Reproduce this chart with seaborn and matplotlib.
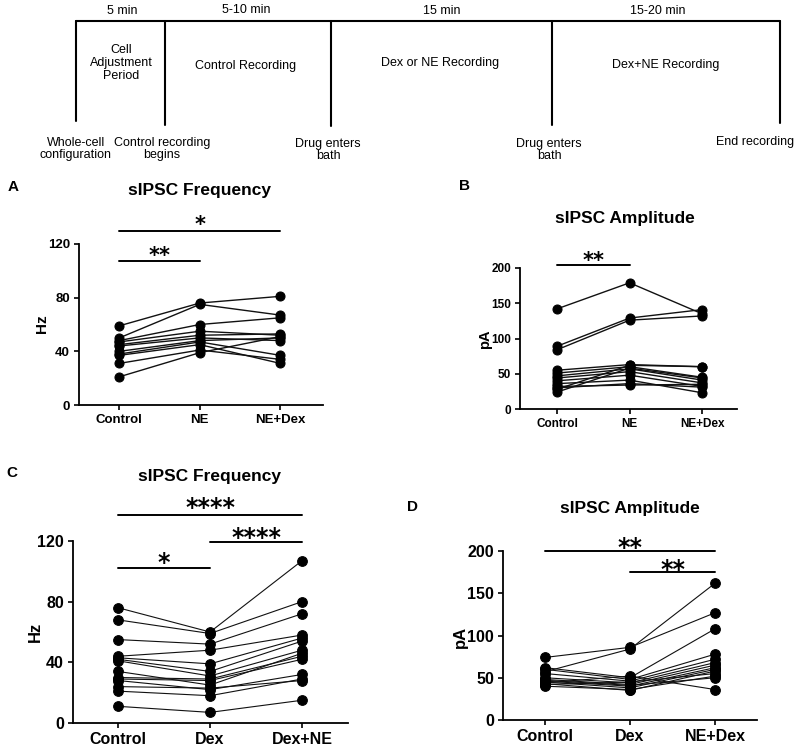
import numpy as np
import pandas as pd
import matplotlib
matplotlib.use("Agg")
import matplotlib.pyplot as plt
import seaborn as sns

sns.set_style("ticks", {"axes.edgecolor": "black", "text.color": "black",
                        "xtick.color": "black", "ytick.color": "black",
                        "axes.labelcolor": "black"})
plt.rcParams["font.family"] = ["Liberation Sans", "DejaVu Sans"]

# panel A: sIPSC frequency, NE then NE+Dex
A_cond = ["Control", "NE", "NE+Dex"]
A_control = [59, 50, 48, 47, 45, 44, 40, 38, 37, 31, 21]
A_ne = [76, 75, 60, 55, 52, 50, 48, 47, 45, 41, 39]
A_nedex = [81, 67, 65, 52, 53, 48, 50, 37, 31, 34, 51]

# panel B: sIPSC amplitude, NE then NE+Dex
B_cond = ["Control", "NE", "NE+Dex"]
B_control = [142, 89, 84, 55, 51, 47, 44, 40, 36, 32, 28, 24, 30]
B_ne = [179, 129, 126, 63, 60, 57, 53, 48, 41, 34, 62, 58, 36]
B_nedex = [135, 141, 132, 60, 45, 41, 37, 32, 23, 35, 60, 44, 31]

# panel C: sIPSC frequency, Dex then Dex+NE
C_cond = ["Control", "Dex", "Dex+NE"]
C_control = [76, 68, 55, 44, 43, 42, 41, 34, 30, 29, 28, 24, 21, 11]
C_dex = [60, 59, 52, 48, 39, 34, 31, 25, 29, 28, 22, 23, 18, 7]
C_dexne = [107, 80, 72, 58, 56, 54, 48, 46, 44, 42, 32, 28, 29, 15]

# panel D: sIPSC amplitude, Dex then NE+Dex
D_cond = ["Control", "Dex", "NE+Dex"]
D_control = [74, 57, 62, 60, 55, 50, 48, 46, 45, 43, 42, 40, 44, 47]
D_dex = [86, 84, 50, 48, 46, 44, 42, 40, 38, 35, 45, 36, 52, 41]
D_nedex = [127, 162, 108, 78, 72, 68, 65, 62, 60, 58, 55, 52, 36, 50]

# significance bars: (x0, x1, bar y, star y, label)
A_sig = [(0, 2, 130, 138.5, "*"), (0, 1, 107, 115.5, "**")]
B_sig = [(0, 1, 204, 218, "**")]
C_sig = [(0, 2, 137, 146, "****"), (1, 2, 119.3, 126.5, "****"), (0, 1, 102, 110, "*")]
D_sig = [(0, 2, 200, 211, "**"), (1, 2, 175, 186, "**")]

W, H = 800, 750
fig = plt.figure(figsize=(8, 7.5), dpi=100)


def px_axes(left, right, top, bottom):
    return fig.add_axes([left / W, 1 - bottom / H, (right - left) / W, (bottom - top) / H])


def long_df(conds, cols):
    rows = []
    for c, vals in zip(conds, cols):
        for i, v in enumerate(vals):
            rows.append({"cell": i, "condition": c, "value": v})
    return pd.DataFrame(rows)


def panel(ax, conds, cols, yticks, xlim, sig, tick_fs, star_fs, ms, lw):
    df = long_df(conds, cols)
    sns.lineplot(data=df, x="condition", y="value", units="cell", estimator=None,
                 color="#111111", marker="o", markersize=ms, markeredgecolor="black",
                 markerfacecolor="black", linewidth=lw, sort=False, ax=ax)
    ax.set_xlim(*xlim)
    ax.set_ylim(yticks[0], yticks[-1])
    ax.set_yticks(yticks)
    ax.set_xlabel("")
    ax.set_ylabel("")
    sns.despine(ax=ax)
    for s in ["left", "bottom"]:
        ax.spines[s].set_linewidth(1.3)
    ax.tick_params(direction="out", length=3.5, width=1.2, labelsize=tick_fs, pad=3)
    for lab in ax.get_xticklabels() + ax.get_yticklabels():
        lab.set_fontweight("bold")
    for x0, x1, yb, ys, txt in sig:
        ax.plot([x0, x1], [yb, yb], color="black", lw=1.4, clip_on=False)
        ax.annotate(txt, xy=((x0 + x1) / 2, ys), xytext=(0, -0.58 * star_fs),
                    textcoords="offset points", ha="center", va="baseline",
                    fontsize=star_fs, family="DejaVu Sans", fontweight="bold",
                    annotation_clip=False)


axA = px_axes(79, 323, 244, 405)
panel(axA, A_cond, [A_control, A_ne, A_nedex], [0, 40, 80, 120], (-0.5, 2.53), A_sig, 9.5, 15, 6.5, 1.0)
axB = px_axes(520, 737, 268, 409)
panel(axB, B_cond, [B_control, B_ne, B_nedex], [0, 50, 100, 150, 200], (-0.51, 2.48), B_sig, 8.5, 15, 6.5, 1.0)
axC = px_axes(73, 348, 541, 723)
panel(axC, C_cond, [C_control, C_dex, C_dexne], [0, 40, 80, 120], (-0.49, 2.5), C_sig, 11.5, 17, 7, 0.8)
axD = px_axes(503, 757, 551, 720)
panel(axD, D_cond, [D_control, D_dex, D_nedex], [0, 50, 100, 150, 200], (-0.49, 2.49), D_sig, 11.5, 17, 7, 0.8)

# overlay in pixel coordinates for timeline, titles and letters
ov = fig.add_axes([0, 0, 1, 1])
ov.set_xlim(0, W)
ov.set_ylim(H, 0)
ov.axis("off")

ov.plot([76, 780], [21, 21], color="black", lw=1.5)
for x, yb in [(76, 121), (165, 125), (331, 126), (552, 125), (780, 123)]:
    ov.plot([x, x], [21, yb], color="black", lw=1.5)

tl_fs = 9
for x, y, t in [(122, 11, "5 min"), (246, 10, "5-10 min"), (442, 11, "15 min"), (658, 11, "15-20 min")]:
    ov.text(x, y, t, ha="center", va="center", fontsize=tl_fs)
ov.text(121, 63, "Cell\nAdjustment\nPeriod", ha="center", va="center", fontsize=tl_fs, linespacing=1.1)
for x, y, t in [(246, 66, "Control Recording"), (440, 63, "Dex or NE Recording"), (666, 65, "Dex+NE Recording")]:
    ov.text(x, y, t, ha="center", va="center", fontsize=tl_fs)
for x, y, t in [(76, 149, "Whole-cell\nconfiguration"), (162, 149, "Control recording\nbegins"),
                (328, 150, "Drug enters\nbath"), (549, 150, "Drug enters\nbath"), (755, 142, "End recording")]:
    ov.text(x, y, t, ha="center", va="center", fontsize=tl_fs, linespacing=1.1)

for x, y, t in [(199, 190, "sIPSC Frequency"), (625, 218, "sIPSC Amplitude"),
                (209, 476, "sIPSC Frequency"), (630, 508, "sIPSC Amplitude")]:
    ov.text(x, y, t, ha="center", va="center", fontsize=12.5, fontweight="bold")
for x, y, t in [(13, 187, "A"), (464, 186, "B"), (12, 473, "C"), (413, 507, "D")]:
    ov.text(x, y, t, ha="center", va="center", fontsize=11, fontweight="bold")
for x, y, t, fs in [(42, 324, "Hz", 11), (485, 339, "pA", 10.5), (35, 632, "Hz", 12), (460, 637, "pA", 12)]:
    ov.text(x, y, t, ha="center", va="center", fontsize=fs, fontweight="bold", rotation=90)

fig.savefig("out.png", dpi=100)
